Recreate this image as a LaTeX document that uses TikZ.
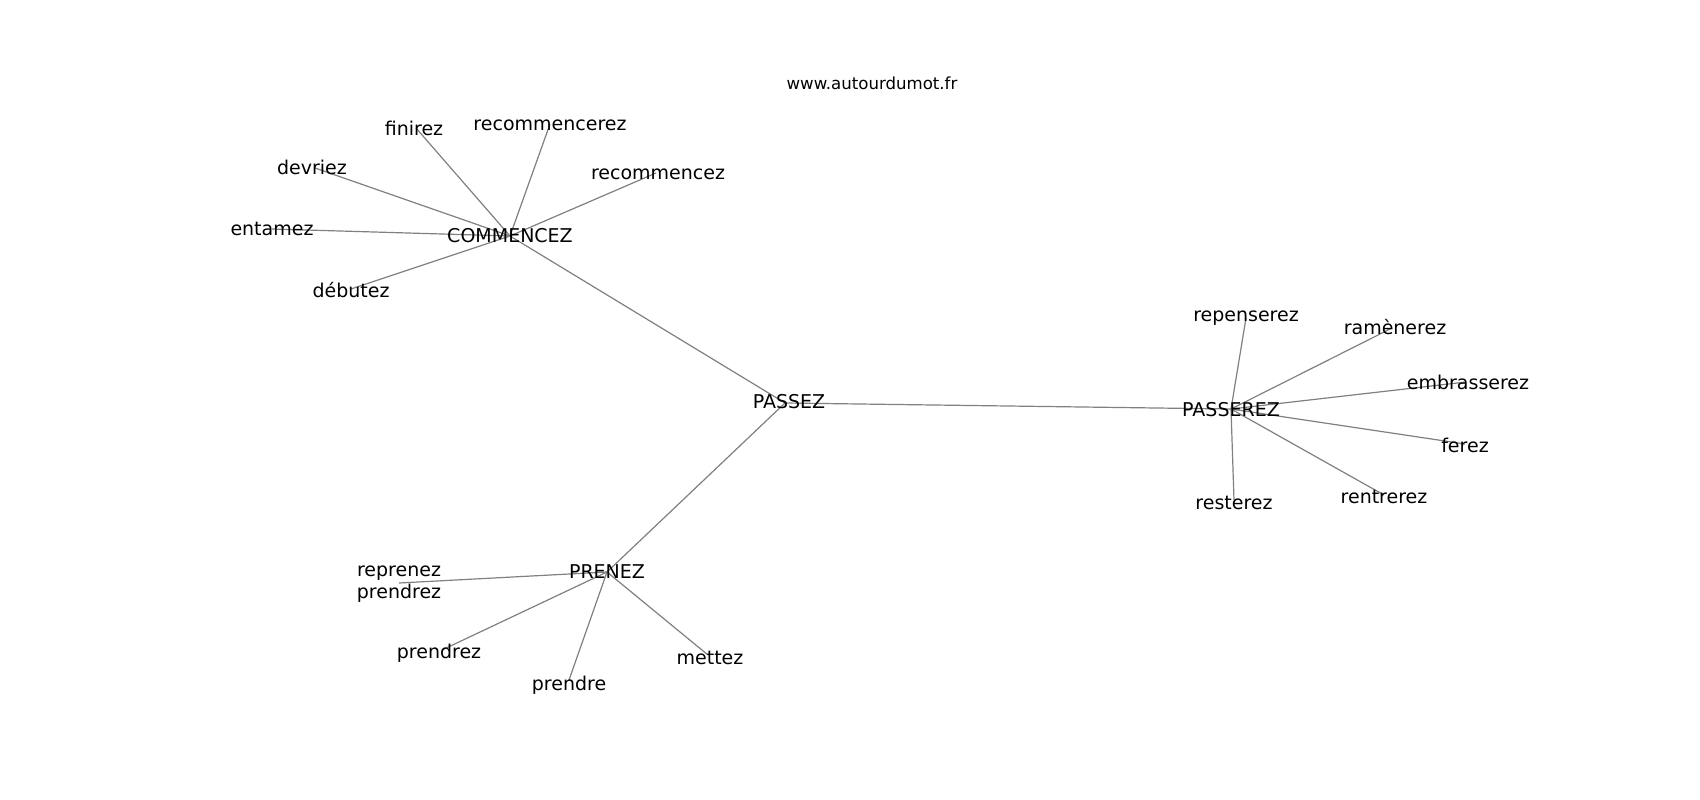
\documentclass[tikz,border=0pt]{standalone}
\usepackage{fontspec}
\setmainfont{DejaVu Sans}
\begin{document}
\begin{tikzpicture}[x=1pt,y=-1pt,
  word/.style={inner sep=0pt,font=\fontsize{19}{22}\selectfont,align=center},
  link/.style={draw=gray,line width=1.2pt}]
\useasboundingbox[fill=white] (0,0) rectangle (1700,800);
\node[inner sep=0pt,font=\fontsize{16.6}{19}\selectfont] (title) at (872,83) {www.autourdumot.fr};
% node positions
\coordinate (cPASSEZ) at (785,403);
\coordinate (cCOMM) at (510,236);
\coordinate (cfinirez) at (416,128);
\coordinate (crecomr) at (550,124);
\coordinate (cdevriez) at (315,168);
\coordinate (crecomz) at (656,173);
\coordinate (centamez) at (272,229);
\coordinate (cdebutez) at (351,289);
\coordinate (cPASSEREZ) at (1231,409);
\coordinate (crepenserez) at (1246,318);
\coordinate (cramenerez) at (1392,328);
\coordinate (cembrasserez) at (1466,382);
\coordinate (cferez) at (1465,444);
\coordinate (cresterez) at (1234,500);
\coordinate (crentrerez) at (1384,495);
\coordinate (cPRENEZ) at (607,572);
\coordinate (crepren) at (399,583);
\coordinate (cprendrez) at (442,650);
\coordinate (cprendre) at (569,680);
\coordinate (cmettez) at (708,655);
% edges
\draw[link] (cPASSEZ) -- (cCOMM);
\draw[link] (cPASSEZ) -- (cPASSEREZ);
\draw[link] (cPASSEZ) -- (cPRENEZ);
\draw[link] (cCOMM) -- (cfinirez);
\draw[link] (cCOMM) -- (crecomr);
\draw[link] (cCOMM) -- (cdevriez);
\draw[link] (cCOMM) -- (crecomz);
\draw[link] (cCOMM) -- (centamez);
\draw[link] (cCOMM) -- (cdebutez);
\draw[link] (cPASSEREZ) -- (crepenserez);
\draw[link] (cPASSEREZ) -- (cramenerez);
\draw[link] (cPASSEREZ) -- (cembrasserez);
\draw[link] (cPASSEREZ) -- (cferez);
\draw[link] (cPASSEREZ) -- (cresterez);
\draw[link] (cPASSEREZ) -- (crentrerez);
\draw[link] (cPRENEZ) -- (crepren);
\draw[link] (cPRENEZ) -- (cprendrez);
\draw[link] (cPRENEZ) -- (cprendre);
\draw[link] (cPRENEZ) -- (cmettez);
% labels
\node[word] (PASSEZ) at (789,402) {PASSEZ};
\node[word] (COMM) at (510,236) {COMMENCEZ};
\node[word] (finirez) at (414,128) {finirez};
\node[word] (recomr) at (550,125) {recommencerez};
\node[word] (devriez) at (312,167) {devriez};
\node[word] (recomz) at (658,174) {recommencez};
\node[word] (entamez) at (272,229) {entamez};
\node[word] (debutez) at (351,290) {débutez};
\node[word] (PASSEREZ) at (1231,410) {PASSEREZ};
\node[word] (repenserez) at (1246,318) {repenserez};
\node[word] (ramenerez) at (1395,327) {ramènerez};
\node[word] (embrasserez) at (1468,382) {embrasserez};
\node[word] (ferez) at (1465,445) {ferez};
\node[word] (resterez) at (1234,503) {resterez};
\node[word] (rentrerez) at (1384,497) {rentrerez};
\node[word] (PRENEZ) at (607,572) {PRENEZ};
\node[word] (repren) at (399,584) {reprenez\\prendrez};
\node[word] (prendrez) at (439,653) {prendrez};
\node[word] (prendre) at (569,685) {prendre};
\node[word] (mettez) at (710,658) {mettez};
\end{tikzpicture}
\end{document}
